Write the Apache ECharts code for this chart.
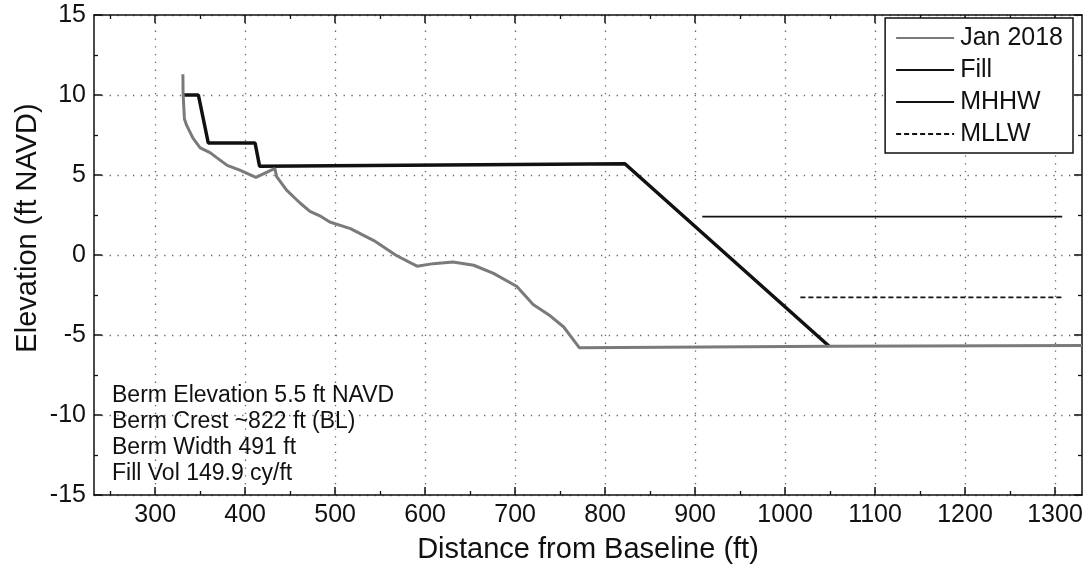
<!DOCTYPE html>
<html><head><meta charset="utf-8">
<script src="https://cdn.jsdelivr.net/npm/echarts@6/dist/echarts.min.js"></script>
<style>html,body{margin:0;padding:0;background:#fff}#c{width:1086px;height:569px}</style>
</head><body><div id="c"></div>
<script>
// ---- data ----
const janX = [330.8, 331, 332.5, 335, 342, 350, 361, 368, 380, 394, 412, 429, 433, 435, 446, 461, 472, 483, 494, 517, 543, 568, 591, 609, 631, 654, 676, 702, 720, 739, 754, 771.5, 1050, 1330];
const janY = [11.3, 10.1, 8.5, 8.1, 7.3, 6.7, 6.4, 6.1, 5.6, 5.3, 4.85, 5.3, 5.4, 4.9, 4.05, 3.25, 2.73, 2.45, 2.06, 1.65, 0.9, -0.03, -0.7, -0.54, -0.44, -0.64, -1.15, -1.97, -3.1, -3.8, -4.5, -5.8, -5.7, -5.65];
const fillX = [331, 348, 359, 411, 416, 822, 1049];
const fillY = [10, 10, 7, 7, 5.55, 5.7, -5.7];
const mhhwX = [908, 1308];
const mhhwY = [2.4, 2.4];
const mllwX = [1017, 1308];
const mllwY = [-2.65, -2.65];
const xMajorTicks = [300, 400, 500, 600, 700, 800, 900, 1000, 1100, 1200, 1300];
const xMinorTicks = [250, 350, 450, 550, 650, 750, 850, 950, 1050, 1150, 1250];
const xRange = [232, 1330];
const yRange = [-15, 15];
const yStep = 5;
const seriesNames = ['Jan 2018', 'Fill', 'MHHW', 'MLLW'];
const noteLines = ['Berm Elevation 5.5 ft NAVD', 'Berm Crest ~822 ft (BL)', 'Berm Width 491 ft', 'Fill Vol 149.9 cy/ft'];
const xTitle = 'Distance from Baseline (ft)';
const yTitle = 'Elevation (ft NAVD)';

const zip = (xs, ys) => xs.map((x, i) => [x, ys[i]]);
const FONT = '"Liberation Sans", Arial, Helvetica, sans-serif';
const INK = '#111';
const grid = {left: 94, right: 4, top: 15, bottom: 65};

const dotted = {color: '#666', width: 1.3, type: [1.3, 6.5]};
const plainLabel = v => String(v);

const chart = echarts.init(document.getElementById('c'), null, {renderer: 'canvas'});
chart.setOption({
  animation: false,
  backgroundColor: '#fff',
  grid: grid,
  textStyle: {fontFamily: FONT, color: INK},
  legend: {
    data: seriesNames,
    orient: 'vertical',
    right: 13, top: 18,
    backgroundColor: '#fff',
    borderColor: INK, borderWidth: 1.5, borderRadius: 0,
    padding: [7, 10, 6, 10],
    itemWidth: 58, itemHeight: 14, itemGap: 6,
    itemStyle: {opacity: 0},
    textStyle: {fontSize: 25, fontFamily: FONT, color: INK, lineHeight: 26, padding: [0, 0, 0, 1]},
    selectedMode: false
  },
  xAxis: [
    {type: 'value', position: 'bottom', min: xRange[0], max: xRange[1],
     axisLine: {show: true, onZero: false, lineStyle: {color: INK, width: 1.5}},
     axisTick: {show: true, inside: true, length: 8, customValues: xMajorTicks, lineStyle: {color: INK, width: 1.5}},
     axisLabel: {show: true, customValues: xMajorTicks, formatter: plainLabel, fontSize: 25, color: INK, fontFamily: FONT, margin: 8},
     splitLine: {show: true, lineStyle: dotted},
     name: xTitle, nameLocation: 'middle', nameGap: 40,
     nameTextStyle: {fontSize: 29, color: INK, fontFamily: FONT}},
    {type: 'value', position: 'bottom', min: xRange[0], max: xRange[1],
     axisLine: {show: false, onZero: false},
     axisTick: {show: true, inside: true, length: 4, customValues: xMinorTicks, lineStyle: {color: INK, width: 1.3}},
     axisLabel: {show: false}, splitLine: {show: false}},
    {type: 'value', position: 'top', min: xRange[0], max: xRange[1],
     axisLine: {show: true, onZero: false, lineStyle: {color: INK, width: 1.5}},
     axisTick: {show: true, inside: true, length: 8, customValues: xMajorTicks, lineStyle: {color: INK, width: 1.5}},
     axisLabel: {show: false}, splitLine: {show: false}},
    {type: 'value', position: 'top', min: xRange[0], max: xRange[1],
     axisLine: {show: false, onZero: false},
     axisTick: {show: true, inside: true, length: 4, customValues: xMinorTicks, lineStyle: {color: INK, width: 1.3}},
     axisLabel: {show: false}, splitLine: {show: false}}
  ],
  yAxis: [
    {type: 'value', position: 'left', min: yRange[0], max: yRange[1], interval: yStep,
     axisLine: {show: true, onZero: false, lineStyle: {color: INK, width: 1.5}},
     axisTick: {show: true, inside: true, length: 8, lineStyle: {color: INK, width: 1.5}},
     minorTick: {show: true, splitNumber: 2, length: 4, lineStyle: {color: INK, width: 1.3}},
     axisLabel: {show: true, formatter: plainLabel, fontSize: 25, color: INK, fontFamily: FONT, margin: 8},
     splitLine: {show: true, lineStyle: dotted}},
    {type: 'value', position: 'right', min: yRange[0], max: yRange[1], interval: yStep,
     axisLine: {show: true, onZero: false, lineStyle: {color: INK, width: 1.5}},
     axisTick: {show: true, inside: true, length: 8, lineStyle: {color: INK, width: 1.5}},
     minorTick: {show: true, splitNumber: 2, length: 4, lineStyle: {color: INK, width: 1.3}},
     axisLabel: {show: false}, splitLine: {show: false}}
  ],
  graphic: [
    {type: 'text', left: 112, top: 383, z: 100,
     style: {text: noteLines.join('\n'), font: '23px ' + FONT, fill: INK, lineHeight: 26}},
    {type: 'text', x: 28, y: 228, rotation: Math.PI / 2, z: 100,
     style: {text: yTitle, font: '29px ' + FONT, fill: INK, align: 'center', verticalAlign: 'middle'}}
  ],
  series: [
    {name: seriesNames[1], type: 'line', data: zip(fillX, fillY), showSymbol: false, symbol: 'none', symbolSize: 0,
     lineStyle: {color: INK, width: 3.5}, itemStyle: {color: INK}, z: 3},
    {name: seriesNames[0], type: 'line', data: zip(janX, janY), showSymbol: false, symbol: 'none', symbolSize: 0,
     lineStyle: {color: '#7a7a7a', width: 3}, itemStyle: {color: '#7a7a7a'}, z: 4},
    {name: seriesNames[2], type: 'line', data: zip(mhhwX, mhhwY), showSymbol: false, symbol: 'none', symbolSize: 0,
     lineStyle: {color: INK, width: 1.6}, itemStyle: {color: INK}, z: 3},
    {name: seriesNames[3], type: 'line', data: zip(mllwX, mllwY), showSymbol: false, symbol: 'none', symbolSize: 0,
     lineStyle: {color: INK, width: 1.6, type: [5, 3]}, itemStyle: {color: INK}, z: 3}
  ]
});
</script>
</body></html>
